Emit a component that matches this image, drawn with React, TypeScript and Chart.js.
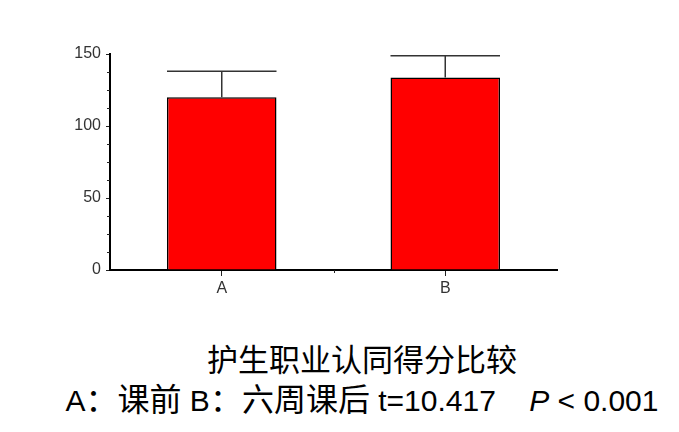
import React, { useEffect, useRef } from "react";
import { Chart, registerables } from "chart.js";

Chart.register(...registerables);

// Group labels and their scores (mean and standard deviation)
const categories = ["A", "B"];
const means = [120, 133.6];
const sds = [18, 15.2];

// Value axis
const yMin = 0;
const yMax = 150;
const yMajorStep = 50;
const yMinorStep = 12.5;

const titleLine = "护生职业认同得分比较";

const errorBarPlugin = {
  id: "errorBars",
  afterDatasetsDraw(chart: any) {
    const { ctx } = chart;
    const yScale = chart.scales.y;
    const meta = chart.getDatasetMeta(0);
    ctx.save();
    ctx.strokeStyle = "#333";
    ctx.lineWidth = 1.5;
    meta.data.forEach((bar: any, i: number) => {
      const top = yScale.getPixelForValue(means[i] + sds[i]);
      const half = bar.width / 2;
      ctx.beginPath();
      ctx.moveTo(bar.x, bar.y);
      ctx.lineTo(bar.x, top);
      ctx.moveTo(bar.x - half, top);
      ctx.lineTo(bar.x + half, top);
      ctx.stroke();
    });
    ctx.restore();
  },
};

const minorTickPlugin = {
  id: "minorTicks",
  afterDraw(chart: any) {
    const { ctx, chartArea } = chart;
    const yScale = chart.scales.y;
    const xScale = chart.scales.x;
    ctx.save();
    ctx.strokeStyle = "#222";
    ctx.lineWidth = 1;
    for (let v = yMin; v <= yMax; v += yMinorStep) {
      if (v % yMajorStep === 0) continue;
      const y = Math.round(yScale.getPixelForValue(v)) + 0.5;
      ctx.beginPath();
      ctx.moveTo(chartArea.left - 3, y);
      ctx.lineTo(chartArea.left, y);
      ctx.stroke();
    }
    for (let i = 0; i < categories.length - 1; i++) {
      const x =
        Math.round((xScale.getPixelForValue(i) + xScale.getPixelForValue(i + 1)) / 2) + 0.5;
      ctx.beginPath();
      ctx.moveTo(x, chartArea.bottom);
      ctx.lineTo(x, chartArea.bottom + 3);
      ctx.stroke();
    }
    ctx.restore();
  },
};

export default function App() {
  const canvasRef = useRef<HTMLCanvasElement | null>(null);

  useEffect(() => {
    if (!canvasRef.current) return;
    const chart = new Chart(canvasRef.current, {
      type: "bar",
      data: {
        labels: categories,
        datasets: [
          {
            data: means,
            backgroundColor: "#ff0000",
            borderColor: "#000",
            borderWidth: 1.5,
            barPercentage: 0.49,
            categoryPercentage: 1,
          },
        ],
      },
      options: {
        responsive: false,
        animation: false,
        devicePixelRatio: 1,
        layout: { padding: { left: 0, right: 122, top: 54, bottom: 0 } },
        plugins: {
          legend: { display: false },
          tooltip: { enabled: false },
          title: { display: false },
        },
        scales: {
          x: {
            grid: {
              display: true,
              offset: false,
              drawOnChartArea: false,
              drawTicks: true,
              tickLength: 6,
              tickColor: "#222",
            },
            border: { display: true, color: "#000", width: 2 },
            ticks: {
              color: "#333",
              padding: 3,
              font: { family: "'Liberation Sans', Arial, sans-serif", size: 16 },
            },
            afterFit(scale: any) {
              scale.height = 40;
            },
          },
          y: {
            min: yMin,
            max: yMax,
            grid: {
              display: true,
              drawOnChartArea: false,
              drawTicks: true,
              tickLength: 4,
              tickColor: "#222",
            },
            border: { display: true, color: "#000", width: 2 },
            ticks: {
              stepSize: yMajorStep,
              color: "#333",
              padding: 5,
              font: { family: "'Liberation Sans', Arial, sans-serif", size: 16 },
            },
            afterFit(scale: any) {
              scale.width = 110;
            },
          },
        },
      },
      plugins: [errorBarPlugin, minorTickPlugin],
    });
    return () => chart.destroy();
  }, []);

  const cjk = "'Noto Sans CJK SC', sans-serif";
  const latin = "'Liberation Sans', Arial, sans-serif";

  return (
    <div
      style={{
        position: "fixed",
        left: 0,
        top: 0,
        width: 679,
        height: 432,
        background: "#fff",
        overflow: "hidden",
      }}
    >
      <canvas
        ref={canvasRef}
        width={679}
        height={310}
        style={{ position: "absolute", left: 0, top: 0, display: "block" }}
      />
      <div
        style={{
          position: "absolute",
          left: 0,
          width: 724,
          top: 338,
          height: 40,
          lineHeight: "40px",
          textAlign: "center",
          fontFamily: cjk,
          fontSize: 31,
          color: "#000",
          whiteSpace: "nowrap",
        }}
      >
        {titleLine}
      </div>
      <div
        style={{
          position: "absolute",
          left: 0,
          width: 724,
          top: 377,
          height: 40,
          lineHeight: "40px",
          textAlign: "center",
          color: "#000",
          whiteSpace: "nowrap",
        }}
      >
        <span style={{ fontFamily: latin, fontSize: 30 }}>A</span>
        <span style={{ fontFamily: cjk, fontSize: 32 }}>：课前</span>
        <span style={{ fontFamily: latin, fontSize: 30 }}> B</span>
        <span style={{ fontFamily: cjk, fontSize: 32 }}>：六周课后</span>
        <span style={{ fontFamily: latin, fontSize: 30 }}>
          {" t=10.417\u00a0\u00a0\u00a0 "}
          <i>P</i>
          {"\u00a0< 0.001"}
        </span>
      </div>
    </div>
  );
}
